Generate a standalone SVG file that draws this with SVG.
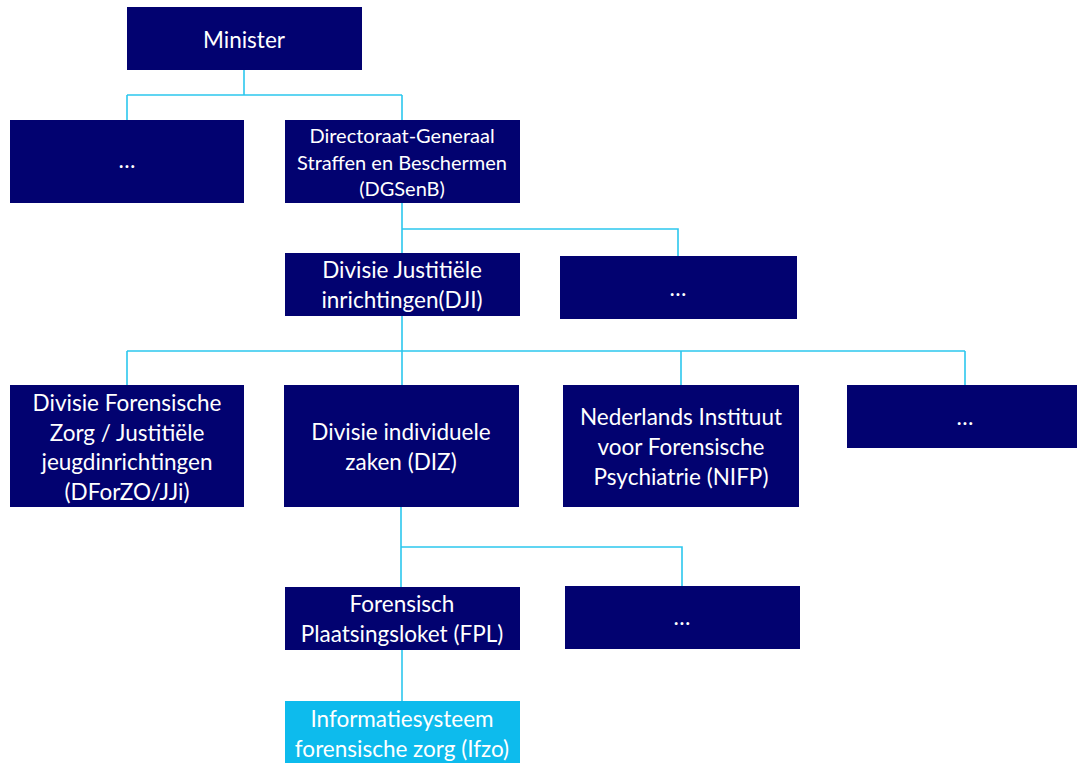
<svg xmlns="http://www.w3.org/2000/svg" width="1077" height="763" viewBox="0 0 1077 763">
<style>
.box{fill:#020270}
.hl{fill:#0DBBED}
.t{fill:#ffffff;font-family:Lato,"Liberation Sans",sans-serif;font-size:22.5px;text-anchor:middle}
.s{font-size:20px}
.c{fill:none;stroke:#2CC7EE;stroke-width:1.6}
</style>
<rect width="1077" height="763" fill="#ffffff"/>
<g id="connectors">
<path class="c" d="M244 70V95M127 95H402M127 95V120M402 95V120"/>
<path class="c" d="M402 203V253M402 229H678V256"/>
<path class="c" d="M402 316V385M127 351H965M127 351V385M681 351V385M965 351V385"/>
<path class="c" d="M401 507V587M401 547H682V586"/>
<path class="c" d="M402 650V701"/>
</g>
<g id="minister"><rect class="box" x="127" y="7" width="235" height="63"/><text class="t" x="244" y="48">Minister</text></g>
<g id="other1"><rect class="box" x="10" y="120" width="234" height="83"/><text class="t" x="127" y="168">…</text></g>
<g id="dgsenb"><rect class="box" x="285" y="120" width="235" height="83"/><text class="t s" x="402" y="143">Directoraat-Generaal</text><text class="t s" x="402" y="170">Straffen en Beschermen</text><text class="t s" x="402" y="196">(DGSenB)</text></g>
<g id="dji"><rect class="box" x="285" y="253" width="235" height="63"/><text class="t" x="402" y="278">Divisie Justitiële</text><text class="t" x="402" y="308">inrichtingen(DJI)</text></g>
<g id="other2"><rect class="box" x="560" y="256" width="237" height="63"/><text class="t" x="678" y="296">…</text></g>
<g id="dforzo"><rect class="box" x="10" y="385" width="234" height="122"/><text class="t" x="127" y="411">Divisie Forensische</text><text class="t" x="127" y="441">Zorg / Justitiële</text><text class="t" x="127" y="470">jeugdinrichtingen</text><text class="t" x="127" y="500">(DForZO/JJi)</text></g>
<g id="diz"><rect class="box" x="284" y="385" width="235" height="122"/><text class="t" x="401" y="440">Divisie individuele</text><text class="t" x="401" y="470">zaken (DIZ)</text></g>
<g id="nifp"><rect class="box" x="563" y="385" width="236" height="122"/><text class="t" x="681" y="425">Nederlands Instituut</text><text class="t" x="681" y="455">voor Forensische</text><text class="t" x="681" y="485">Psychiatrie (NIFP)</text></g>
<g id="other3"><rect class="box" x="847" y="385" width="230" height="63"/><text class="t" x="965" y="425">…</text></g>
<g id="fpl"><rect class="box" x="285" y="587" width="235" height="63"/><text class="t" x="402" y="612">Forensisch</text><text class="t" x="402" y="642">Plaatsingsloket (FPL)</text></g>
<g id="other4"><rect class="box" x="565" y="586" width="235" height="63"/><text class="t" x="682" y="625">…</text></g>
<g id="ifzo"><rect class="hl" x="285" y="701" width="235" height="62"/><text class="t" x="402" y="727">Informatiesysteem</text><text class="t" x="402" y="757">forensische zorg (Ifzo)</text></g>
</svg>
